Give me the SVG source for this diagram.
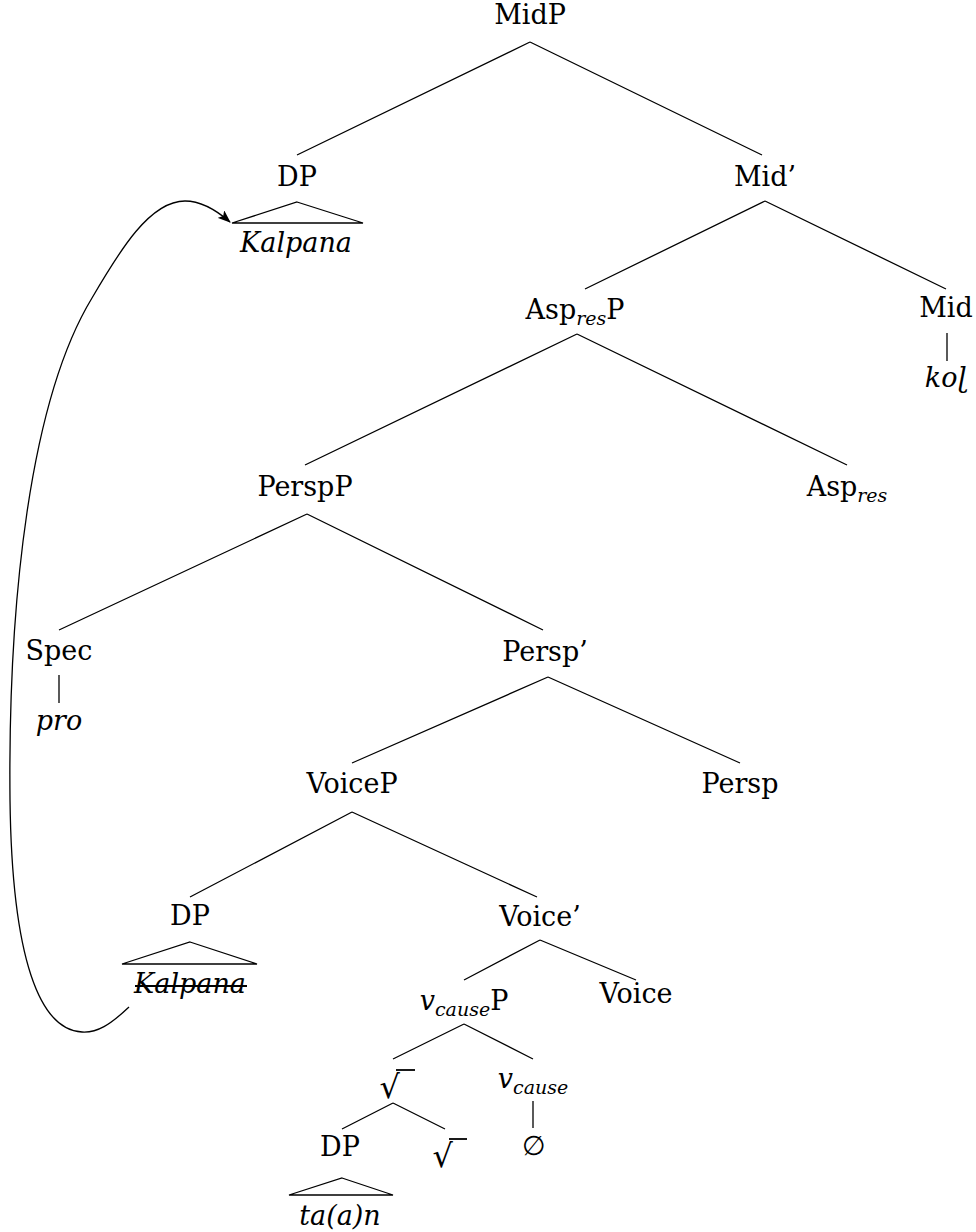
<svg xmlns="http://www.w3.org/2000/svg" width="976" height="1232" viewBox="0 0 976 1232" font-family="DejaVu Serif, serif">
<style>
.t{font-family:"DejaVu Serif",serif;font-size:27px;text-anchor:middle;fill:#000}
.i{font-style:italic}
.s{font-size:19px;font-style:italic}
.e{stroke:#000;stroke-width:1.3;fill:none}
.r{font-family:"DejaVu Serif",serif;font-size:32px;text-anchor:end;fill:#000}
.v{stroke:#000;stroke-width:1.8}
</style>
<defs>
<marker id="ah" markerUnits="userSpaceOnUse" markerWidth="14" markerHeight="10" refX="12" refY="5" orient="auto">
<path d="M0,0 L13,5 L0,10 L3,5 z" fill="#000"/>
</marker>
</defs>
<rect width="976" height="1232" fill="#fff"/>
<g id="edges" class="e">
<path d="M530,42 L297,155 M530,42 L762,155"/>
<path d="M765,201 L585,289 M765,201 L946,289"/>
<path d="M577,334 L305,465 M577,334 L847,465"/>
<path d="M307,514 L59,630 M307,514 L543,630"/>
<path d="M548,677 L352,763 M548,677 L740,763"/>
<path d="M352,812 L190,897 M352,812 L537,897"/>
<path d="M540,940 L464,980 M540,940 L636,980"/>
<path d="M464,1024 L393,1059 M464,1024 L533,1059"/>
<path d="M393,1103 L342,1129 M393,1103 L445,1129"/>
<path d="M947,333 L947,361"/>
<path d="M59,675 L59,703"/>
<path d="M533,1101 L533,1128"/>
<path d="M129,1007 C110,1025 97,1033 82,1032 C40,1030 12,960 10,800 C8,600 30,400 92,298 C120,250 150,201 185,201 C200,201 215,209 230,222" marker-end="url(#ah)"/>
</g>
<g id="n-midp"><text class="t" x="530" y="24">MidP</text></g>
<g id="n-dp1"><text class="t" x="297" y="186">DP</text>
<path class="e" d="M297,202 L363,223 L232,223 Z"/>
<text class="t i" x="296" y="252">Kalpana</text></g>
<g id="n-midbar"><text class="t" x="765" y="186">Mid’</text></g>
<g id="n-asprespp"><text class="t" x="575" y="319">Asp<tspan class="s" dy="6">res</tspan><tspan dy="-6">P</tspan></text></g>
<g id="n-mid"><text class="t" x="946" y="317">Mid</text>
<text class="t i" x="946" y="387">koɭ</text></g>
<g id="n-perspp"><text class="t" x="305" y="496">PerspP</text></g>
<g id="n-aspres"><text class="t" x="847" y="496">Asp<tspan class="s" dy="6">res</tspan></text></g>
<g id="n-spec"><text class="t" x="59" y="660">Spec</text>
<text class="t i" x="59" y="730">pro</text></g>
<g id="n-perspbar"><text class="t" x="545" y="661">Persp’</text></g>
<g id="n-voicep"><text class="t" x="352" y="793">VoiceP</text></g>
<g id="n-persp"><text class="t" x="740" y="793">Persp</text></g>
<g id="n-dp2"><text class="t" x="190" y="925">DP</text>
<path class="e" d="M190,942 L257,964 L122,964 Z"/>
<text class="t i" x="190" y="993">Kalpana</text>
<line x1="135" y1="986" x2="247" y2="986" stroke="#000" stroke-width="2"/></g>
<g id="n-voicebar"><text class="t" x="540" y="926">Voice’</text></g>
<g id="n-vcausep"><text class="t" x="464" y="1010"><tspan class="i">v</tspan><tspan class="s" dy="6">cause</tspan><tspan dy="-6">P</tspan></text></g>
<g id="n-voice"><text class="t" x="636" y="1003">Voice</text></g>
<g id="n-root1"><text class="r" x="400" y="1098">√</text>
<line class="v" x1="396" y1="1070" x2="415" y2="1070"/></g>
<g id="n-vcause"><text class="t" x="533" y="1088"><tspan class="i">v</tspan><tspan class="s" dy="6">cause</tspan></text>
<text class="t" x="534" y="1155">∅</text></g>
<g id="n-dp3"><text class="t" x="340" y="1156">DP</text>
<path class="e" d="M342,1178 L393,1195 L289,1195 Z"/>
<text class="t i" x="340" y="1225">ta(a)n</text></g>
<g id="n-root2"><text class="r" x="453" y="1167">√</text>
<line class="v" x1="449" y1="1139" x2="467" y2="1139"/></g>
</svg>
